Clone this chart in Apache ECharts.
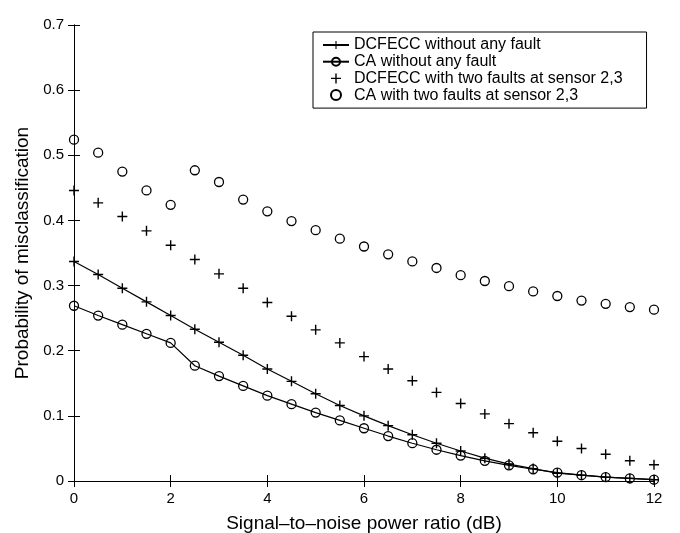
<!DOCTYPE html>
<html>
<head>
<meta charset="utf-8">
<script src="https://cdn.jsdelivr.net/npm/echarts@6/dist/echarts.min.js"></script>
<style>html,body{margin:0;padding:0;background:#fff;}#c{width:680px;height:533px;}</style>
</head>
<body>
<div id="c"></div>
<script>
var snr = [0,0.5,1,1.5,2,2.5,3,3.5,4,4.5,5,5.5,6,6.5,7,7.5,8,8.5,9,9.5,10,10.5,11,11.5,12];
var dcfeccNoFault = [0.337,0.317,0.296,0.275,0.254,0.233,0.213,0.193,0.172,0.153,0.134,0.116,0.100,0.085,0.071,0.058,0.046,0.035,0.026,0.019,0.012,0.009,0.006,0.004,0.002];
var caNoFault = [0.269,0.254,0.240,0.226,0.212,0.177,0.161,0.146,0.131,0.118,0.105,0.093,0.081,0.069,0.058,0.048,0.039,0.031,0.024,0.018,0.013,0.009,0.006,0.004,0.002];
var dcfeccFault = [0.446,0.427,0.406,0.384,0.362,0.340,0.318,0.296,0.274,0.253,0.232,0.212,0.191,0.172,0.154,0.136,0.119,0.103,0.088,0.074,0.061,0.050,0.041,0.031,0.025];
var caFault = [0.524,0.504,0.475,0.446,0.424,0.477,0.459,0.432,0.414,0.399,0.385,0.372,0.360,0.348,0.337,0.327,0.316,0.307,0.299,0.291,0.284,0.277,0.272,0.267,0.263];
var seriesNames = ['DCFECC without any fault','CA without any fault','DCFECC with two faults at sensor 2,3','CA with two faults at sensor 2,3'];
var xTitle = 'Signal\u2013to\u2013noise power ratio (dB)';
var yTitle = 'Probability of misclassification';

function pairs(vals){ return snr.map(function(x,i){ return [x, vals[i]]; }); }
var FONT = '"Liberation Sans", Arial, Helvetica, sans-serif';
var plus = 'path://M4.3,0h1.4v4.3h4.3v1.4h-4.3v4.3h-1.4v-4.3h-4.3v-1.4h4.3z';
var circleStyle = {color:'rgba(255,255,255,0)', borderColor:'#000', borderWidth:1.3, opacity:1};
var plusStyle = {color:'#000', borderWidth:0, opacity:1};

var axisCommon = {
  axisLine:{show:true, lineStyle:{color:'#000', width:1}},
  axisTick:{show:true, inside:true, length:6, lineStyle:{color:'#000', width:1}},
  splitLine:{show:false}
};
function ax(o){ var r = JSON.parse(JSON.stringify(axisCommon)); for (var k in o) r[k]=o[k]; return r; }

var chart = echarts.init(document.getElementById('c'), null, {renderer:'canvas'});
chart.setOption({
  animation:false,
  backgroundColor:'#fff',
  textStyle:{fontFamily:FONT},
  grid:{left:74, right:26, top:25, bottom:52, containLabel:false, outerBoundsMode:'none'},
  legend:{
    orient:'vertical', left:313, top:32,
    padding:[5,24,5,9], itemGap:0.7, itemWidth:26, itemHeight:10,
    backgroundColor:'#fff', borderColor:'#000', borderWidth:1, borderRadius:0,
    textStyle:{fontFamily:FONT, fontSize:16, color:'#000'},
    data:seriesNames
  },
  xAxis:[
    ax({type:'value', min:0, max:12, interval:2, position:'bottom',
      name:xTitle, nameLocation:'middle', nameGap:33,
      nameTextStyle:{fontFamily:FONT, fontSize:19, color:'#000'},
      axisLabel:{fontFamily:FONT, fontSize:15, color:'#000', margin:10}}),
    ax({type:'value', min:0, max:12, interval:2, position:'top', axisLabel:{show:false}})
  ],
  yAxis:[
    ax({type:'value', min:0, max:0.7, interval:0.1, position:'left',
      name:yTitle, nameLocation:'middle', nameGap:42,
      nameTextStyle:{fontFamily:FONT, fontSize:19, color:'#000'},
      axisLabel:{fontFamily:FONT, fontSize:15, color:'#000', margin:10,
        formatter:function(v){ return Math.round(v*10)/10 + ''; }}}),
    ax({type:'value', min:0, max:0.7, interval:0.1, position:'right', axisLabel:{show:false}})
  ],
  series:[
    {name:seriesNames[0], type:'line', data:pairs(dcfeccNoFault), symbol:plus, symbolSize:10,
      showAllSymbol:true, clip:false, lineStyle:{color:'#000', width:1.2}, itemStyle:plusStyle},
    {name:seriesNames[1], type:'line', data:pairs(caNoFault), symbol:'circle', symbolSize:9,
      showAllSymbol:true, clip:false, lineStyle:{color:'#000', width:1.2}, itemStyle:circleStyle},
    {name:seriesNames[2], type:'scatter', data:pairs(dcfeccFault), symbol:plus, symbolSize:10,
      clip:false, itemStyle:plusStyle},
    {name:seriesNames[3], type:'scatter', data:pairs(caFault), symbol:'circle', symbolSize:9,
      clip:false, itemStyle:circleStyle}
  ]
});
</script>
</body>
</html>
